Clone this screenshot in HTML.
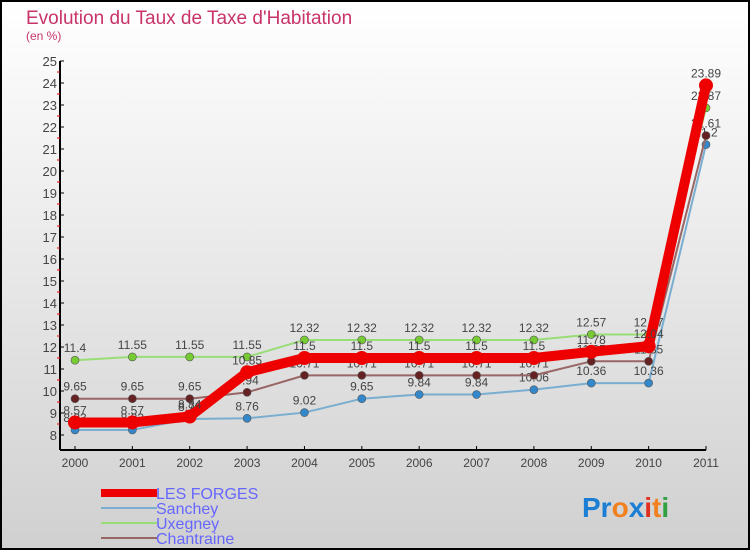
<!DOCTYPE html>
<html><head><meta charset="utf-8"><style>
body{margin:0;width:750px;height:550px;overflow:hidden}
svg{display:block;font-family:"Liberation Sans",sans-serif}
</style></head><body>
<svg id="c" width="750" height="550">
<defs><linearGradient id="bg" x1="0" y1="0" x2="0" y2="1"><stop offset="0" stop-color="#ffffff"/><stop offset="1" stop-color="#d0d0d0"/></linearGradient></defs>
<rect x="1" y="1" width="748" height="548" fill="url(#bg)" stroke="#000" stroke-width="2"/>
<text x="26" y="24" font-size="19" fill="#c8336a">Evolution du Taux de Taxe d'Habitation</text>
<text x="26" y="40" font-size="12" fill="#c8336a">(en %)</text>
<g id="axes"></g><g id="series"></g>
<g font-size="16" fill="#6666ff">
<rect x="101" y="489" width="56" height="8" fill="#e00"/>
<text x="156" y="499">LES FORGES</text>
<rect x="101" y="507" width="56" height="2" fill="#7aaed0"/>
<text x="156" y="514">Sanchey</text>
<rect x="101" y="522" width="56" height="2" fill="#99dd77"/>
<text x="156" y="529">Uxegney</text>
<rect x="101" y="537" width="56" height="2" fill="#996666"/>
<text x="156" y="544">Chantraine</text>
</g>
<text x="582" y="517" font-size="28" font-weight="bold"><tspan fill="#1a7fd4">Pr</tspan><tspan fill="#f08020">o</tspan><tspan fill="#1a7fd4">x</tspan><tspan fill="#e03020">i</tspan><tspan fill="#f08020">t</tspan><tspan fill="#30a040">i</tspan></text>
</svg>
<script>
const years=["2000","2001","2002","2003","2004","2005","2006","2007","2008","2009","2010","2011"];
const yTicks=[8,9,10,11,12,13,14,15,16,17,18,19,20,21,22,23,24,25];
const forges=[8.57,8.57,8.84,10.85,11.5,11.5,11.5,11.5,11.5,11.78,12.04,23.89];
const sanchey=[8.23,8.23,8.73,8.76,9.02,9.65,9.84,9.84,10.06,10.36,10.36,21.2];
const uxegney=[11.4,11.55,11.55,11.55,12.32,12.32,12.32,12.32,12.32,12.57,12.57,22.87];
const chantraine=[9.65,9.65,9.65,9.94,10.71,10.71,10.71,10.71,10.71,11.35,11.35,21.61];
const NS="http://www.w3.org/2000/svg";
const X=i=>75+i*(706-75)/11, Y=v=>435-(v-8)*22;
function mk(t,a,p){const e=document.createElementNS(NS,t);for(const k in a)e.setAttribute(k,a[k]);if(p)p.appendChild(e);return e;}
const ax=document.getElementById('axes'),sg=document.getElementById('series');
const yl=mk('line',{x1:60,y1:Y(25),x2:60,y2:450,stroke:'#000','stroke-width':2},ax);


const xl=mk('line',{x1:60,y1:450,x2:X(11),y2:450,stroke:'#000','stroke-width':2},ax);


yTicks.forEach(v=>{mk('line',{x1:60,y1:Y(v),x2:64,y2:Y(v),stroke:'#000'},ax);
 if(v<25)mk('line',{x1:57,y1:Y(v+0.5),x2:60,y2:Y(v+0.5),stroke:'#e00'},ax);
 const t=mk('text',{x:57,y:Y(v)+5,'text-anchor':'end','font-size':13,fill:'#444'},ax);t.textContent=v;
 
 });
years.forEach((y,i)=>{mk('line',{x1:X(i),y1:446,x2:X(i),y2:450,stroke:'#000'},ax);
 const t=mk('text',{x:X(i),y:467,'text-anchor':'middle','font-size':12,fill:'#444'},ax);t.textContent=y;
 
 });
function draw(d,name,col,w,r,dot){
 const g=mk('g',{},sg);
 
 
 mk('polyline',{points:d.map((v,i)=>X(i)+','+Y(v)).join(' '),fill:'none',stroke:col,'stroke-width':w,'stroke-linejoin':'round'},g);
 d.forEach((v,i)=>{const c=mk('circle',{cx:X(i),cy:Y(v),r:r,fill:dot,stroke:'#555','stroke-width':r>5?0:0.6},g);
  
  
  const t=mk('text',{x:X(i),y:Y(v)-8,'text-anchor':'middle','font-size':12,fill:'#444'},g);t.textContent=v;
  
  });
}
draw(uxegney,'uxegney','#99dd77',2,4,'#77cc33');
draw(sanchey,'sanchey','#7aaed0',2,4,'#3388cc');
draw(chantraine,'chantraine','#996666',2,4,'#662222');
draw(forges,'les-forges','#ee0000',10,7,'#ee0000');
</script>
</body></html>
